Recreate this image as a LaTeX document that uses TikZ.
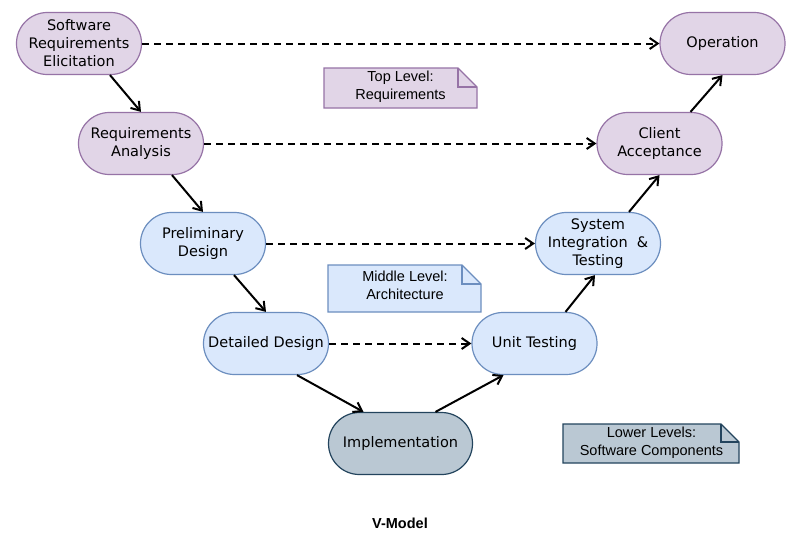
\documentclass[tikz,border=0pt]{standalone}
\usepackage{fontspec}
\setmainfont{DejaVu Sans}
\newfontfamily\notefont{Liberation Sans}
\usetikzlibrary{arrows.meta,calc,backgrounds}
\definecolor{pfill}{HTML}{E1D5E7}
\definecolor{pdraw}{HTML}{9673A6}
\definecolor{bfill}{HTML}{DAE8FC}
\definecolor{bdraw}{HTML}{6C8EBF}
\definecolor{gfill}{HTML}{BAC8D3}
\definecolor{gdraw}{HTML}{23445D}
\begin{document}
\begin{tikzpicture}[x=1pt,y=-1pt,
  stage/.style={draw, line width=1.2pt, rounded corners=30.9pt, minimum width=125pt,
    minimum height=62pt, align=center, inner sep=0pt,
    font=\fontsize{14.5}{18}\selectfont},
  pstage/.style={stage, fill=pfill, draw=pdraw},
  bstage/.style={stage, fill=bfill, draw=bdraw},
  gstage/.style={stage, fill=gfill, draw=gdraw},
  flow/.style={-{Straight Barb[length=8pt,width=11pt]}, line width=2pt},
  link/.style={flow, dash pattern=on 7pt off 5pt},
  notetext/.style={align=center, inner sep=0pt, font=\notefont\fontsize{14.5}{18}\selectfont},
  notebox/.style={line width=1.2pt, line join=miter}
]
\useasboundingbox (0,0) rectangle (808,557);

% stages
\node[pstage] (e1) at (79,43.5) {Software\\Requirements\\Elicitation};
\node[pstage] (e2) at (141,143.5) {Requirements\\Analysis};
\node[bstage] (e3) at (203,243.5) {Preliminary\\Design};
\node[bstage] (e4) at (266,343.5) {Detailed Design};
\node[gstage, minimum width=144pt] (impl) at (400.5,443.5) {Implementation};
\node[bstage] (u1) at (534.5,343.5) {Unit Testing};
\node[bstage] (u2) at (598,243.5) {System\\Integration\ \ \&\\Testing};
\node[pstage] (u3) at (659.5,143.5) {Client\\Acceptance};
\node[pstage] (u4) at (722.5,43.5) {Operation};

% notes (text nodes)
\node[notetext] (n1) at (400.5,86.5) {Top Level:\\Requirements};
\node[notetext] (n2) at (405,285) {Middle Level:\\Architecture};
\node[notetext] (n3) at (651.5,443) {Lower Levels:\\Software Components};

\node[font=\notefont\bfseries\fontsize{14.5}{18}\selectfont] (title) at (400,523) {V-Model};

\begin{scope}[on background layer]
  \fill[white] (0,0) rectangle (808,557);
  % note 1
  \draw[notebox, fill=pfill, draw=pdraw] (324,68) -- (458,68) -- (477,87) -- (477,108) -- (324,108) -- cycle;
  \draw[notebox, draw=pdraw] (458,68) -- (458,87) -- (477,87);
  % note 2
  \draw[notebox, fill=bfill, draw=bdraw] (328,265) -- (462,265) -- (481,284) -- (481,312) -- (328,312) -- cycle;
  \draw[notebox, draw=bdraw] (462,265) -- (462,284) -- (481,284);
  % note 3
  \draw[notebox, fill=gfill, draw=gdraw] (563,424) -- (721,424) -- (739,442) -- (739,463) -- (563,463) -- cycle;
  \draw[notebox, draw=gdraw] (721,424) -- (721,442) -- (739,442);
\end{scope}

% descending flow
\draw[flow] ($(e1.south)+(31,0)$) -- (e2.north);
\draw[flow] ($(e2.south)+(31,0)$) -- (e3.north);
\draw[flow] ($(e3.south)+(31,0)$) -- (e4.north);
\draw[flow] ($(e4.south)+(31,0)$) -- ($(impl.north)+(-37,0)$);
% ascending flow
\draw[flow] ($(impl.north)+(35,0)$) -- ($(u1.south)+(-31,0)$);
\draw[flow] ($(u1.north)+(31,0)$) -- ($(u2.south)+(-3,0)$);
\draw[flow] ($(u2.north)+(31,0)$) -- (u3.south);
\draw[flow] ($(u3.north)+(31,0)$) -- (u4.south);

% verification links
\draw[link] (e1.east) -- (u4.west);
\draw[link] (e2.east) -- (u3.west);
\draw[link] (e3.east) -- (u2.west);
\draw[link] (e4.east) -- (u1.west);
\end{tikzpicture}
\end{document}
